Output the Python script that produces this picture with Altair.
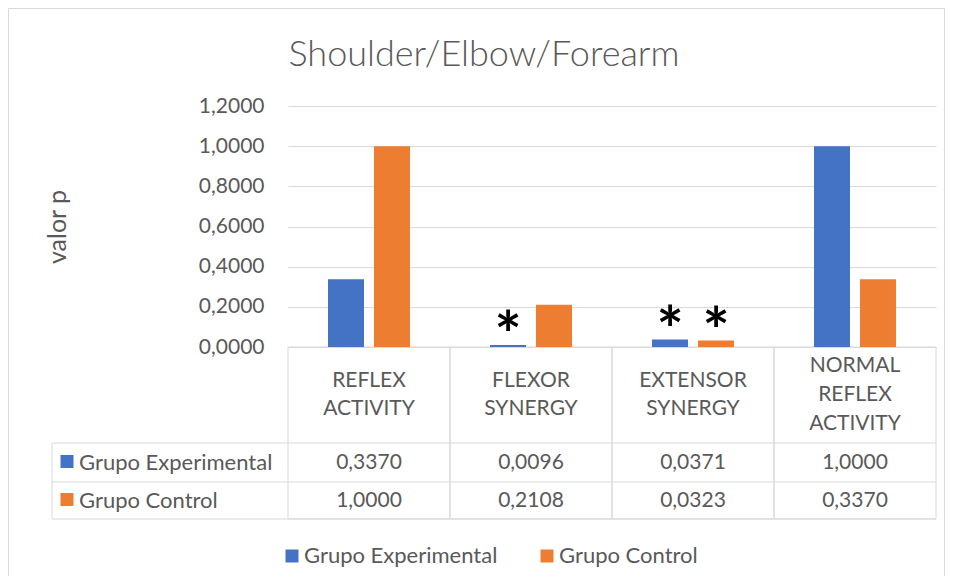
import altair as alt
import pandas as pd

categories = ["REFLEX ACTIVITY", "FLEXOR SYNERGY", "EXTENSOR SYNERGY", "NORMAL REFLEX ACTIVITY"]
series = ["Grupo Experimental", "Grupo Control"]
experimental = [0.3370, 0.0096, 0.0371, 1.0000]
control = [1.0000, 0.2108, 0.0323, 0.3370]
sig_experimental = [False, True, True, False]
sig_control = [False, False, True, False]
y_ticks = [0, 0.2, 0.4, 0.6, 0.8, 1.0, 1.2]
colors = ["#4472C4", "#ED7D31"]
chart_title = "Shoulder/Elbow/Forearm"
y_title = "valor p"

rows = []
for i, c in enumerate(categories):
    rows.append(dict(category=c, series=series[0], value=experimental[i], sig=sig_experimental[i]))
    rows.append(dict(category=c, series=series[1], value=control[i], sig=sig_control[i]))
df = pd.DataFrame(rows)
cat_df = pd.DataFrame({"category": categories})
one = pd.DataFrame({"k": [0]})

W, H = 648, 241
FONT = "Lato"
TXT = "#595959"
LINE = "#D9D9D9"
FS = 21
FS_LAB = 22
comma_fmt = "replace(format(datum.value, '.4f'), '.', ',')"

x_enc = alt.X("category:N", sort=categories, axis=None,
              scale=alt.Scale(paddingInner=0, paddingOuter=0))
xoff_enc = alt.XOffset("series:N", sort=series,
                       scale=alt.Scale(paddingInner=0.217, paddingOuter=0.87))
y_enc = alt.Y("value:Q", scale=alt.Scale(domain=[0, 1.2], nice=False),
              axis=alt.Axis(values=y_ticks, labelExpr=comma_fmt, grid=True, gridColor=LINE,
                            domain=False, ticks=False, labelPadding=24, labelFont=FONT,
                            labelFontSize=FS, labelColor=TXT, title=y_title, titleFont=FONT,
                            titleFontSize=25, titleFontWeight="normal", titleColor=TXT,
                            titleX=-231, titleY=H / 2, titleBaseline="middle"))

bars = alt.Chart(df).mark_bar().encode(
    x=x_enc, xOffset=xoff_enc, y=y_enc,
    color=alt.Color("series:N", sort=series,
                    scale=alt.Scale(domain=series, range=colors),
                    legend=alt.Legend(orient="none", legendX=-7, legendY=439, direction="horizontal",
                                      title=None, symbolType="square", symbolSize=169,
                                      symbolStrokeWidth=0, labelFont=FONT, labelFontSize=FS_LAB,
                                      labelColor=TXT, columnPadding=38, labelOffset=1,
                                      labelLimit=0)),
)

stars = alt.Chart(df).transform_filter("datum.sig").mark_text(
    text="*", font=FONT, fontWeight="bold", fontSize=64, color="black",
    baseline="alphabetic", dy=13
).encode(x=x_enc, xOffset=xoff_enc, y=alt.Y("value:Q"))

title = alt.Chart(one).mark_text(
    text=chart_title, font=FONT, fontSize=36, fontWeight=300, color=TXT,
    align="center", baseline="alphabetic"
).encode(x=alt.value(196), y=alt.value(-40))

# outer chart frame
frame = [
    alt.Chart(one).mark_rule(color=LINE).encode(x=alt.value(-279.5), x2=alt.value(656.5), y=alt.value(-97.5)),
    alt.Chart(one).mark_rule(color=LINE).encode(x=alt.value(-279.5), y=alt.value(-97.5), y2=alt.value(480)),
    alt.Chart(one).mark_rule(color=LINE).encode(x=alt.value(656.5), y=alt.value(-97.5), y2=alt.value(480)),
]

# data table grid
cells = alt.Chart(cat_df).mark_rect(fillOpacity=0, stroke=LINE, strokeWidth=1).encode(
    x=x_enc, y=alt.value(H), y2=alt.value(413))
grid_lines = [
    alt.Chart(one).mark_rule(color=LINE).encode(x=alt.value(-236), x2=alt.value(W), y=alt.value(yy))
    for yy in (337, 376, 413)
]
grid_lines.append(
    alt.Chart(one).mark_rule(color=LINE).encode(x=alt.value(-236), y=alt.value(337), y2=alt.value(413)))

n_words = "length(split(datum.category, ' '))"
header2 = alt.Chart(cat_df).transform_filter(n_words + " == 2").mark_text(
    lineBreak=" ", lineHeight=28, baseline="middle", align="center",
    font=FONT, fontSize=FS, color=TXT
).encode(x=x_enc, y=alt.value(275), text="category:N")
header3 = alt.Chart(cat_df).transform_filter(n_words + " == 3").mark_text(
    lineBreak=" ", lineHeight=29, baseline="middle", align="center",
    font=FONT, fontSize=FS, color=TXT
).encode(x=x_enc, y=alt.value(260), text="category:N")

row_y = [356.5, 394.5]
table_layers = []
for s, ry, col in zip(series, row_y, colors):
    table_layers.append(
        alt.Chart(df).transform_filter(alt.datum.series == s)
        .transform_calculate(label=comma_fmt)
        .mark_text(font=FONT, fontSize=FS, color=TXT, baseline="middle", align="center")
        .encode(x=x_enc, y=alt.value(ry), text="label:N"))
    sdf = pd.DataFrame({"series": [s]})
    table_layers.append(
        alt.Chart(sdf).mark_text(font=FONT, fontSize=FS_LAB, color=TXT, baseline="middle", align="left")
        .encode(x=alt.value(-209), y=alt.value(ry), text="series:N"))
    table_layers.append(
        alt.Chart(sdf).mark_point(shape="square", filled=True, size=169, opacity=1, color=col)
        .encode(x=alt.value(-221), y=alt.value(ry - 1)))

chart = alt.layer(
    *frame, cells, *grid_lines, bars, stars, title, header2, header3, *table_layers
).properties(
    width=W, height=H,
    autosize=alt.AutoSizeParams(type="none"),
    padding={"left": 280, "top": 98, "right": 9, "bottom": 229},
    background="white",
).configure_view(stroke=None)

chart.save("out.html", embed_options={"renderer": "svg", "actions": False})
